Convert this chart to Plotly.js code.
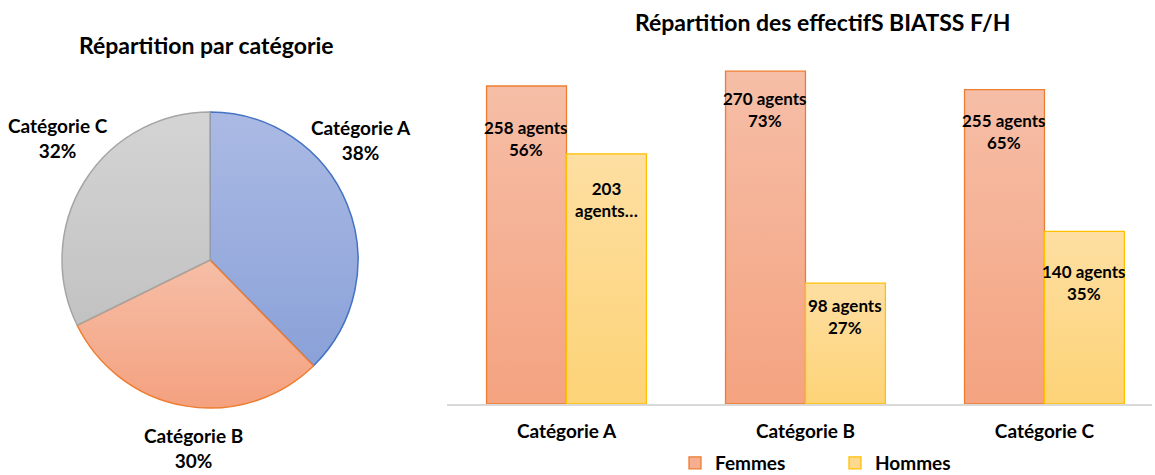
<!DOCTYPE html>
<html><head><meta charset="utf-8">
<script src="https://cdn.plot.ly/plotly-3.0.1.min.js"></script>
<style>html,body{margin:0;padding:0;background:#fff}#chart{width:1155px;height:475px}</style>
</head><body><div id="chart"></div>
<script>
// ---- data ----
const pieCategories = ['Catégorie A', 'Catégorie B', 'Catégorie C'];
const pieValues = [461, 368, 395];
const piePercents = ['38%', '30%', '32%'];

const barCategories = ['Catégorie A', 'Catégorie B', 'Catégorie C'];
const femmesValues = [258, 270, 255];
const hommesValues = [203, 98, 140];
const femmesLabels = ['258 agents<br>56%', '270 agents<br>73%', '255 agents<br>65%'];
const hommesLabels = ['203<br>agents…', '98 agents<br>27%', '140 agents<br>35%'];
const seriesNames = ['Femmes', 'Hommes'];

const pieTitle = 'Répartition par catégorie';
const barTitle = 'Répartition des effectifS BIATSS F/H';

// ---- style ----
const FONT = 'Lato, "Liberation Sans", sans-serif';
const W = 1155, H = 475;
const px = x => x / W, py = y => (H - y) / H;

const femmesFill = '#F5AE90', femmesLine = '#ED7D31';
const hommesFill = '#FDD98F', hommesLine = '#FFC000';
const pieFills = ['#9CAEDE', '#F5AF92', '#CBCBCB'];
const pieLines = ['#4472C4', '#ED7D31', '#A5A5A5'];

// label offsets (px below bar top)
const femmesShift = [-29, -15, -18];
const hommesShift = [-22, -10, -28];

const traces = [
  {
    type: 'pie', labels: pieCategories, values: pieValues, sort: false,
    direction: 'clockwise', rotation: 0, textinfo: 'none', hoverinfo: 'none',
    marker: { colors: pieFills, line: { color: pieLines, width: 1.5 } },
    domain: { x: [px(62), px(358)], y: [py(408), py(112)] }, showlegend: false
  },
  {
    type: 'bar', name: seriesNames[0], x: barCategories, y: femmesValues,
    marker: { color: femmesFill, line: { color: femmesLine, width: 1.3 } },
    xaxis: 'x', yaxis: 'y', hoverinfo: 'none'
  },
  {
    type: 'bar', name: seriesNames[1], x: barCategories, y: hommesValues,
    marker: { color: hommesFill, line: { color: hommesLine, width: 1.3 } },
    xaxis: 'x', yaxis: 'y', hoverinfo: 'none'
  }
];

const annotations = [];
annotations.push({ text: '<b>' + pieTitle + '</b>', xref: 'paper', yref: 'paper', x: px(206), y: py(45),
  xanchor: 'center', yanchor: 'middle', showarrow: false, font: { family: FONT, size: 23, color: '#000' } });
annotations.push({ text: '<b>' + barTitle + '</b>', xref: 'paper', yref: 'paper', x: px(822), y: py(22),
  xanchor: 'center', yanchor: 'middle', showarrow: false, font: { family: FONT, size: 23, color: '#000' } });

const pieLabelPos = [[361, 140], [193, 448], [58, 138]];
pieCategories.forEach((c, i) => {
  annotations.push({ text: '<b>' + c + '<br>' + piePercents[i] + '</b>', xref: 'paper', yref: 'paper',
    x: px(pieLabelPos[i][0]), y: py(pieLabelPos[i][1]), xanchor: 'center', yanchor: 'middle', showarrow: false,
    font: { family: FONT, size: 19, color: '#000' }, align: 'center' });
});

barCategories.forEach((c, i) => {
  annotations.push({ text: '<b>' + femmesLabels[i] + '</b>', x: c, y: femmesValues[i], xref: 'x', yref: 'y',
    xshift: -40, yshift: femmesShift[i], xanchor: 'center', yanchor: 'top', showarrow: false,
    font: { family: FONT, size: 17, color: '#000' } });
  annotations.push({ text: '<b>' + hommesLabels[i] + '</b>', x: c, y: hommesValues[i], xref: 'x', yref: 'y',
    xshift: 40, yshift: hommesShift[i], xanchor: 'center', yanchor: 'top', showarrow: false,
    font: { family: FONT, size: 17, color: '#000' } });
});

const layout = {
  width: W, height: H, margin: { l: 0, r: 0, t: 0, b: 0, autoexpand: false },
  paper_bgcolor: '#fff', plot_bgcolor: 'rgba(0,0,0,0)',
  font: { family: FONT, color: '#000' },
  barmode: 'group', bargap: 0.331, bargroupgap: 0,
  xaxis: { domain: [px(447), px(1152)], range: [-0.5, 2.45], showline: true, linecolor: '#D9D9D9', linewidth: 2,
    ticks: '', ticklabelstandoff: 9, tickfont: { family: FONT, size: 19, color: '#000', weight: 'bold' },
    showgrid: false, zeroline: false, fixedrange: true, automargin: false },
  yaxis: { domain: [py(404), py(60)], range: [0, 279.1], showgrid: false, zeroline: false,
    showticklabels: false, showline: false, ticks: '', fixedrange: true, automargin: false },
  showlegend: true,
  legend: { orientation: 'h', x: px(675), xanchor: 'left', y: py(463), yanchor: 'middle',
    entrywidth: 115, font: { family: FONT, size: 19, color: '#000', weight: 'bold' }, bgcolor: 'rgba(0,0,0,0)' },
  annotations: annotations
};

Plotly.newPlot('chart', traces, layout, { displayModeBar: false, staticPlot: true }).then(gd => {
  const svg = gd.querySelector('.main-svg');
  let defs = svg.querySelector('defs');
  const NS = 'http://www.w3.org/2000/svg';
  function grad(id, top, bottom) {
    const g = document.createElementNS(NS, 'linearGradient');
    g.setAttribute('id', id); g.setAttribute('x1', '0'); g.setAttribute('y1', '0');
    g.setAttribute('x2', '0'); g.setAttribute('y2', '1');
    [[0, top], [1, bottom]].forEach(([o, c]) => {
      const s = document.createElementNS(NS, 'stop');
      s.setAttribute('offset', o); s.setAttribute('stop-color', c); g.appendChild(s);
    });
    defs.appendChild(g);
  }
  grad('gF', '#F6BEA7', '#F4A380');
  grad('gH', '#FEDFA2', '#FDD377');
  grad('gA', '#ABBAE4', '#8AA1D8');
  grad('gB', '#F6BEA7', '#F4A17F');
  grad('gC', '#D4D4D4', '#C2C2C2');
  const barTraces = gd.querySelectorAll('.barlayer .trace');
  const ids = ['gF', 'gH'];
  barTraces.forEach((t, i) => t.querySelectorAll('.point path').forEach(p => p.style.fill = 'url(#' + ids[i] + ')'));
  const sl = gd.querySelectorAll('.pielayer .slice path.surface');
  const pids = ['gA', 'gB', 'gC'];
  sl.forEach((p, i) => p.style.fill = 'url(#' + pids[i] + ')');
});
</script></body></html>
